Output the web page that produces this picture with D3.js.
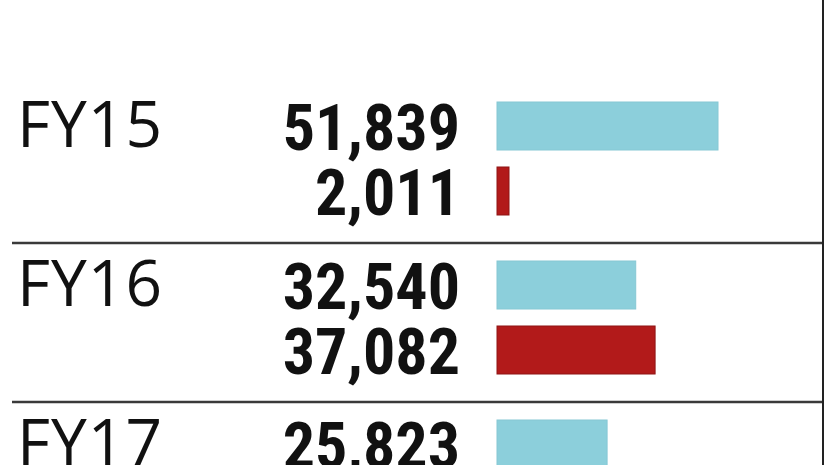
<!DOCTYPE html>
<html>
<head>
<meta charset="utf-8">
<script src="https://cdn.jsdelivr.net/npm/d3@7"></script>
<style>
html,body{margin:0;padding:0;background:#fff;}
svg{display:block;}
</style>
</head>
<body>
<script>
const categories = ["FY15", "FY16", "FY17"];
const seriesNames = ["first", "second"];
const firstValues = [51839, 32540, 25823];
const secondValues = [2011, 37082, null];
const colors = ["#8ccfdb", "#b21a1a"];
const strokeColors = ["#86c8d4", "#8f1414"];

const W = 826, H = 465;
const svg = d3.select("body").append("svg").attr("width", W).attr("height", H);

const y = d3.scaleBand().domain(categories).range([85, 85 + 159 * 3]).paddingInner(0).paddingOuter(0);
const inner = d3.scaleBand().domain(seriesNames).range([17, 130]).paddingInner(0.2615).paddingOuter(0);
const x = d3.scaleLinear().domain([0, 51839]).range([497, 718]);

const fmt = d3.format(",");

// separators
svg.selectAll("line.sep").data(categories.slice(1)).enter().append("line")
  .attr("class", "sep")
  .attr("x1", 12).attr("x2", 823)
  .attr("y1", d => y(d) - 1).attr("y2", d => y(d) - 1)
  .attr("stroke", "#3a3a3a").attr("stroke-width", 2.5);

// right border
svg.append("line").attr("x1", 823).attr("x2", 823).attr("y1", 0).attr("y2", H)
  .attr("stroke", "#222").attr("stroke-width", 2);

const rows = [];
categories.forEach((c, i) => {
  [firstValues[i], secondValues[i]].forEach((v, j) => {
    if (v != null) rows.push({cat: c, series: seriesNames[j], idx: j, value: v});
  });
});

const g = svg.append("g");
g.selectAll("rect.bar").data(rows).enter().append("rect")
  .attr("class", "bar")
  .attr("x", x(0))
  .attr("y", d => y(d.cat) + inner(d.series))
  .attr("width", d => Math.max(12, x(d.value) - x(0)))
  .attr("height", inner.bandwidth())
  .attr("fill", d => colors[d.idx])
  .attr("stroke", d => strokeColors[d.idx])
  .attr("stroke-width", 1);

g.selectAll("text.val").data(rows).enter().append("text")
  .attr("class", "val")
  .attr("x", 460)
  .attr("y", d => y(d.cat) + inner(d.series) + inner.bandwidth())
  .attr("text-anchor", "end")
  .attr("font-family", "'Liberation Sans Narrow', 'Roboto Condensed', 'DejaVu Sans Condensed', sans-serif")
  .attr("font-weight", "bold")
  .attr("font-size", 64)
  .attr("fill", "#111")
  .text(d => fmt(d.value));

g.selectAll("text.cat").data(categories).enter().append("text")
  .attr("class", "cat")
  .attr("x", 17)
  .attr("y", d => y(d) + inner(seriesNames[0]) + inner.bandwidth() - 3)
  .attr("font-family", "'Open Sans', 'Noto Sans', sans-serif")
  .attr("font-size", 64)
  .attr("letter-spacing", 1)
  .attr("fill", "#111")
  .text(d => d);
</script>
</body>
</html>
